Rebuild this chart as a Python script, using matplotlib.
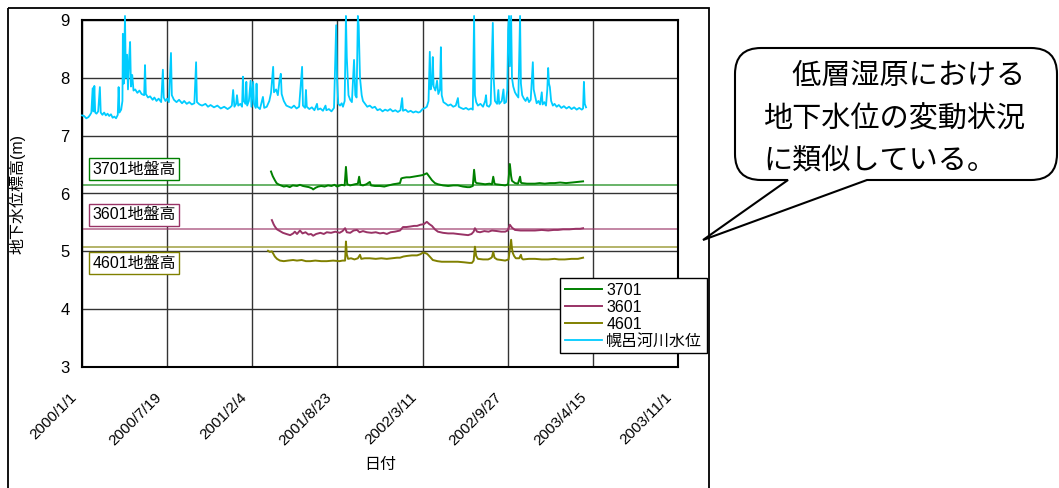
import numpy as np
import pandas as pd
import matplotlib
matplotlib.use("Agg")
import matplotlib.pyplot as plt
from matplotlib.path import Path
from matplotlib.patches import PathPatch, Rectangle
from matplotlib.transforms import ScaledTranslation, blended_transform_factory

plt.rcParams['font.family'] = ['Liberation Sans', 'Noto Sans CJK JP', 'DejaVu Sans']

# ---- data (day offset from 2000/1/1, level in m) ----
tick_labels = ["2000/1/1", "2000/7/19", "2001/2/4", "2001/8/23",
               "2002/3/11", "2002/9/27", "2003/4/15", "2003/11/1"]
y_ticks = [3, 4, 5, 6, 7, 8, 9]

well_names = ["3701", "3601", "4601"]
river_name = "幌呂河川水位"
ground_levels = [6.15, 5.38, 5.08]
ground_labels = ["3701地盤高", "3601地盤高", "4601地盤高"]

river_obs = [
    (0, 7.35), (5, 7.34), (10, 7.30), (15, 7.32), (19, 7.36), (22, 7.40), (25, 7.82), (27, 7.42),
    (29, 7.86), (31, 7.40), (34, 7.38), (38, 7.42), (42, 7.84), (44, 7.40), (48, 7.36), (52, 7.40),
    (56, 7.35), (60, 7.38), (64, 7.34), (68, 7.37), (72, 7.31), (76, 7.33), (80, 7.30), (84, 7.36),
    (86, 7.84), (88, 7.40), (92, 7.45), (95, 7.60), (96, 8.76), (98, 7.90), (101, 9.07), (103, 8.00),
    (106, 8.40), (108, 7.80), (111, 8.36), (113, 8.62), (115, 7.85), (118, 8.05), (121, 7.78),
    (125, 7.80), (130, 7.74), (135, 7.78), (140, 7.72), (146, 7.70), (148, 8.22), (150, 7.72),
    (155, 7.66), (160, 7.68), (166, 7.62), (170, 7.66), (175, 7.60), (180, 7.64), (186, 7.58),
    (190, 8.14), (192, 7.66), (196, 7.60), (200, 7.64), (204, 7.58), (209, 8.43), (211, 7.70),
    (216, 7.62), (222, 7.58), (228, 7.62), (235, 7.56), (240, 7.60), (246, 7.55), (252, 7.58),
    (258, 7.54), (264, 7.56), (268, 8.27), (270, 7.58), (276, 7.54), (282, 7.52), (290, 7.55),
    (296, 7.50), (302, 7.53), (310, 7.49), (318, 7.52), (326, 7.47), (334, 7.50), (342, 7.46),
    (348, 7.49), (352, 7.52), (355, 7.79), (358, 7.50), (362, 7.55), (364, 7.70), (367, 7.52),
    (372, 7.55), (376, 7.50), (378, 8.02), (380, 7.60), (384, 7.55), (386, 7.93), (388, 7.52),
    (392, 7.60), (396, 7.95), (398, 7.50), (402, 7.93), (404, 7.55), (408, 7.48), (410, 7.90),
    (412, 7.50), (418, 7.46), (425, 7.67), (428, 7.48), (434, 7.50), (440, 7.60), (444, 7.74),
    (449, 8.19), (451, 7.75), (456, 7.80), (460, 7.70), (464, 7.96), (467, 8.07), (469, 7.72),
    (474, 7.60), (480, 7.52), (486, 7.50), (492, 7.48), (498, 7.52), (504, 7.47), (510, 7.50),
    (517, 8.19), (519, 7.52), (524, 7.48), (526, 7.79), (528, 7.50), (534, 7.46), (540, 7.49),
    (546, 7.44), (552, 7.55), (554, 7.45), (560, 7.47), (566, 7.43), (572, 7.52), (574, 7.44),
    (580, 7.46), (586, 7.42), (592, 7.48), (597, 8.91), (599, 8.00), (602, 7.55), (606, 7.52),
    (610, 7.56), (613, 7.50), (617, 7.60), (620, 9.07), (622, 8.36), (626, 7.70), (630, 7.62),
    (634, 7.58), (639, 8.31), (642, 7.70), (645, 7.66), (648, 9.07), (650, 8.90), (653, 8.00),
    (657, 7.70), (660, 7.60), (665, 7.55), (670, 7.50), (676, 7.52), (682, 7.48), (688, 7.50),
    (694, 7.44), (700, 7.46), (706, 7.42), (712, 7.45), (718, 7.43), (724, 7.46), (730, 7.42),
    (736, 7.44), (742, 7.41), (748, 7.44), (752, 7.65), (754, 7.43), (760, 7.45), (766, 7.41),
    (772, 7.43), (778, 7.40), (784, 7.42), (790, 7.40), (794, 7.41), (800, 7.46), (806, 7.48),
    (810, 7.50), (814, 7.60), (817, 8.45), (819, 7.80), (822, 7.90), (824, 8.36), (826, 7.85),
    (830, 7.78), (834, 7.95), (837, 7.72), (841, 7.80), (843, 8.53), (845, 7.70), (849, 7.58),
    (855, 7.55), (860, 7.52), (866, 7.54), (872, 7.50), (878, 7.52), (883, 7.65), (885, 7.50),
    (890, 7.48), (896, 7.46), (902, 7.48), (908, 7.45), (914, 7.47), (918, 7.45), (921, 9.07),
    (923, 7.70), (926, 7.58), (930, 7.52), (936, 7.55), (942, 7.50), (947, 7.60), (949, 7.70),
    (951, 7.52), (956, 7.50), (960, 7.55), (965, 8.95), (967, 8.00), (970, 7.60), (975, 7.55),
    (978, 7.79), (980, 7.55), (986, 7.60), (990, 7.80), (992, 7.56), (996, 7.58), (999, 7.79),
    (1001, 8.83), (1003, 9.07), (1005, 8.20), (1008, 9.07), (1010, 8.00), (1013, 7.85), (1017, 7.75),
    (1021, 7.70), (1025, 7.66), (1029, 9.07), (1031, 7.90), (1034, 7.70), (1038, 7.64), (1042, 7.60),
    (1046, 7.66), (1050, 7.58), (1054, 7.62), (1059, 8.27), (1061, 7.80), (1064, 7.70), (1068, 7.56),
    (1072, 7.60), (1076, 7.54), (1080, 7.75), (1082, 7.54), (1086, 7.58), (1090, 7.52), (1093, 7.80),
    (1095, 8.17), (1097, 7.90), (1099, 7.84), (1102, 7.60), (1106, 7.52), (1110, 7.55), (1115, 7.50),
    (1120, 7.53), (1126, 7.48), (1132, 7.51), (1138, 7.47), (1144, 7.50), (1150, 7.46), (1156, 7.49),
    (1162, 7.45), (1168, 7.48), (1174, 7.45), (1177, 7.47), (1179, 7.93), (1181, 7.55), (1184, 7.49),
]

well_3701 = [
    (444, 6.38), (448, 6.30), (453, 6.23), (457, 6.18), (461, 6.16), (467, 6.14), (474, 6.12),
    (481, 6.13), (488, 6.11), (495, 6.14), (505, 6.13), (512, 6.15), (519, 6.13), (526, 6.12),
    (533, 6.11), (540, 6.09), (543, 6.07), (549, 6.10), (555, 6.12), (562, 6.13), (570, 6.12),
    (578, 6.14), (586, 6.13), (593, 6.15), (599, 6.12), (610, 6.15), (617, 6.14), (620, 6.46),
    (623, 6.16), (630, 6.14), (641, 6.16), (648, 6.17), (651, 6.29), (654, 6.15), (660, 6.14),
    (668, 6.16), (676, 6.20), (679, 6.14), (688, 6.13), (700, 6.13), (710, 6.12), (720, 6.14),
    (731, 6.16), (740, 6.17), (747, 6.18), (750, 6.26), (754, 6.27), (762, 6.28), (770, 6.28),
    (778, 6.29), (786, 6.30), (794, 6.31), (801, 6.32), (810, 6.35), (816, 6.29), (822, 6.23),
    (829, 6.18), (836, 6.16), (848, 6.14), (860, 6.13), (872, 6.14), (883, 6.14), (895, 6.12),
    (905, 6.11), (911, 6.11), (918, 6.13), (921, 6.41), (924, 6.20), (927, 6.18), (937, 6.17),
    (947, 6.16), (957, 6.17), (963, 6.16), (966, 6.29), (969, 6.17), (972, 6.16), (983, 6.15),
    (994, 6.14), (1001, 6.16), (1005, 6.51), (1008, 6.30), (1010, 6.22), (1017, 6.18), (1024, 6.17),
    (1029, 6.29), (1031, 6.19), (1033, 6.18), (1045, 6.17), (1055, 6.17), (1064, 6.17), (1075, 6.18),
    (1087, 6.17), (1099, 6.18), (1110, 6.18), (1123, 6.19), (1137, 6.18), (1151, 6.19), (1164, 6.20),
    (1177, 6.21),
]

well_3601 = [
    (446, 5.54), (450, 5.47), (453, 5.43), (458, 5.38), (465, 5.35), (472, 5.32), (480, 5.30),
    (489, 5.28), (496, 5.31), (500, 5.34), (505, 5.30), (512, 5.36), (518, 5.31), (525, 5.33),
    (532, 5.29), (538, 5.30), (543, 5.27), (550, 5.30), (560, 5.32), (568, 5.30), (575, 5.33),
    (585, 5.32), (595, 5.34), (605, 5.32), (612, 5.35), (618, 5.40), (622, 5.33), (630, 5.32),
    (638, 5.36), (646, 5.37), (652, 5.33), (660, 5.35), (669, 5.33), (680, 5.32), (690, 5.33),
    (700, 5.31), (708, 5.32), (716, 5.30), (725, 5.33), (735, 5.34), (747, 5.36), (754, 5.42),
    (762, 5.42), (772, 5.43), (780, 5.44), (787, 5.44), (795, 5.46), (803, 5.47), (810, 5.51),
    (816, 5.47), (822, 5.44), (829, 5.38), (836, 5.34), (848, 5.32), (860, 5.31), (872, 5.31),
    (883, 5.30), (895, 5.29), (907, 5.28), (915, 5.30), (920, 5.34), (923, 5.40), (928, 5.34),
    (935, 5.33), (945, 5.35), (955, 5.34), (963, 5.36), (975, 5.35), (985, 5.34), (994, 5.34),
    (1000, 5.36), (1005, 5.46), (1010, 5.41), (1017, 5.37), (1030, 5.36), (1045, 5.36), (1064, 5.36),
    (1080, 5.37), (1095, 5.36), (1108, 5.37), (1118, 5.37), (1130, 5.38), (1145, 5.38), (1160, 5.39),
    (1170, 5.39), (1177, 5.40),
]

well_4601 = [
    (437, 5.01), (441, 4.99), (446, 5.00), (450, 4.95), (453, 4.91), (458, 4.87), (465, 4.84),
    (474, 4.83), (484, 4.84), (496, 4.85), (505, 4.84), (516, 4.85), (526, 4.83), (536, 4.83),
    (548, 4.84), (562, 4.83), (575, 4.83), (590, 4.84), (605, 4.83), (612, 4.84), (618, 4.84),
    (620, 5.17), (622, 4.95), (625, 4.87), (632, 4.88), (640, 4.86), (648, 4.88), (653, 4.94),
    (656, 4.87), (664, 4.88), (676, 4.88), (690, 4.87), (703, 4.88), (716, 4.87), (728, 4.88),
    (740, 4.89), (747, 4.89), (755, 4.91), (763, 4.92), (775, 4.93), (787, 4.93), (795, 4.95),
    (801, 4.98), (806, 4.97), (810, 4.96), (813, 4.94), (818, 4.90), (824, 4.85), (835, 4.83),
    (845, 4.82), (853, 4.82), (868, 4.82), (883, 4.82), (898, 4.81), (910, 4.80), (916, 4.80),
    (920, 4.84), (923, 5.08), (926, 4.92), (930, 4.87), (942, 4.86), (954, 4.86), (960, 4.88),
    (963, 4.90), (966, 4.99), (969, 4.89), (975, 4.86), (985, 4.85), (994, 4.84), (1002, 4.86),
    (1008, 5.20), (1010, 5.05), (1012, 4.97), (1015, 4.92), (1019, 4.88), (1027, 4.88), (1031, 4.94),
    (1033, 4.88), (1036, 4.86), (1050, 4.87), (1064, 4.87), (1080, 4.86), (1095, 4.86), (1110, 4.87),
    (1120, 4.86), (1134, 4.86), (1150, 4.87), (1165, 4.87), (1177, 4.89),
]

callout_lines = ["\u3000低層湿原における", "地下水位の変動状況", "に類似している。"]

# ---- styling ----
well_colors = ["#008000", "#993366", "#808000"]
river_color = "#00CCFF"
start = np.datetime64("2000-01-01")


def to_xy(obs):
    arr = np.array(obs)
    return start + arr[:, 0].astype(int), arr[:, 1]


fig = plt.figure(figsize=(10.59, 4.88), dpi=100)
W, H = 1059, 488
ax = fig.add_axes([82 / W, (H - 367) / H, 596 / W, 347 / H])

wells = [well_3701, well_3601, well_4601]
handles = []
for name, obs, c in zip(well_names, wells, well_colors):
    x, y = to_xy(obs)
    h, = ax.plot(x, y, color=c, lw=1.4, label=name, zorder=4)
    handles.append(h)
x, y = to_xy(river_obs)
h, = ax.plot(x, y, color=river_color, lw=1.3, label=river_name, zorder=3, clip_on=False)
handles.append(h)

# ground level lines + boxed labels
trans = blended_transform_factory(ax.transAxes, ax.transData)
label_y = [6.42, 5.63, 4.79]
for gl, lab, ly, c in zip(ground_levels, ground_labels, label_y, well_colors):
    ax.axhline(gl, color=c, lw=1.1, alpha=0.75, zorder=2)
    ax.text(0.017, ly, lab, transform=trans, fontsize=11.5, va="center", ha="left",
            zorder=5, bbox=dict(boxstyle="square,pad=0.22", fc="white", ec=c, lw=1.0))

ticks = pd.to_datetime(tick_labels, format="%Y/%m/%d")
ax.set_xticks(ticks)
ax.set_xticklabels(tick_labels)
ax.set_xlim(ticks[0], ticks[-1])
ax.set_ylim(y_ticks[0], y_ticks[-1])
ax.set_yticks(y_ticks)
ax.grid(True, color="#333333", lw=1.0)
ax.set_axisbelow(True)
for sp in ax.spines.values():
    sp.set_color("black")
    sp.set_linewidth(1.5)

ax.tick_params(axis="both", length=0)
ax.tick_params(axis="y", labelsize=12, pad=9)
ax.tick_params(axis="x", labelsize=11, pad=20)
off = ScaledTranslation(-8 / 100, 0, fig.dpi_scale_trans)
for t in ax.get_xticklabels():
    t.set_rotation(45)
    t.set_ha("right")
    t.set_va("center")
    t.set_rotation_mode("anchor")
    t.set_transform(t.get_transform() + off)

ax.set_ylabel("地下水位標高(m)", fontsize=11.5, va="center")
ax.yaxis.set_label_coords((17 - 82) / 596, 0.5)
ax.set_xlabel("日付", fontsize=11.5, va="center")
ax.xaxis.set_label_coords(0.5, -(465 - 367) / 347)

leg = fig.legend(handles=handles, loc="upper left",
                 bbox_to_anchor=(560 / W, 1 - 278 / H), bbox_transform=fig.transFigure,
                 fontsize=11.5, frameon=True, fancybox=False, edgecolor="black",
                 framealpha=1, handlelength=2.3, handletextpad=0.3, labelspacing=0.12,
                 borderpad=0.3, borderaxespad=0)
leg.get_frame().set_linewidth(1.0)

# overlay in pixel coordinates for the outer frame and callout
ov = fig.add_axes([0, 0, 1, 1], zorder=-1)
ov.set_xlim(0, W)
ov.set_ylim(H, 0)
ov.axis("off")
ov.patch.set_alpha(0)
ov.add_patch(Rectangle((8, 8), 701, 500, fill=False, ec="black", lw=1.3, clip_on=False))

L, R, T, B, r = 735, 1057, 48, 180, 26
verts = [(L + r, T), (R - r, T), (R, T), (R, T + r), (R, B - r), (R, B), (R - r, B),
         (867, B), (703, 240), (788, B), (L + r, B), (L, B), (L, B - r), (L, T + r), (L, T),
         (L + r, T), (L + r, T)]
codes = [Path.MOVETO, Path.LINETO, Path.CURVE3, Path.CURVE3, Path.LINETO, Path.CURVE3, Path.CURVE3,
         Path.LINETO, Path.LINETO, Path.LINETO, Path.LINETO, Path.CURVE3, Path.CURVE3, Path.LINETO,
         Path.CURVE3, Path.CURVE3, Path.CLOSEPOLY]
ov.add_patch(PathPatch(Path(verts, codes), fc="white", ec="black", lw=1.5))
for i, line in enumerate(callout_lines):
    ov.text(763, 76 + i * 43, line, fontsize=21, ha="left", va="center",
            family=["Noto Sans CJK JP", "DejaVu Sans"])

fig.savefig("out.png", dpi=100)
